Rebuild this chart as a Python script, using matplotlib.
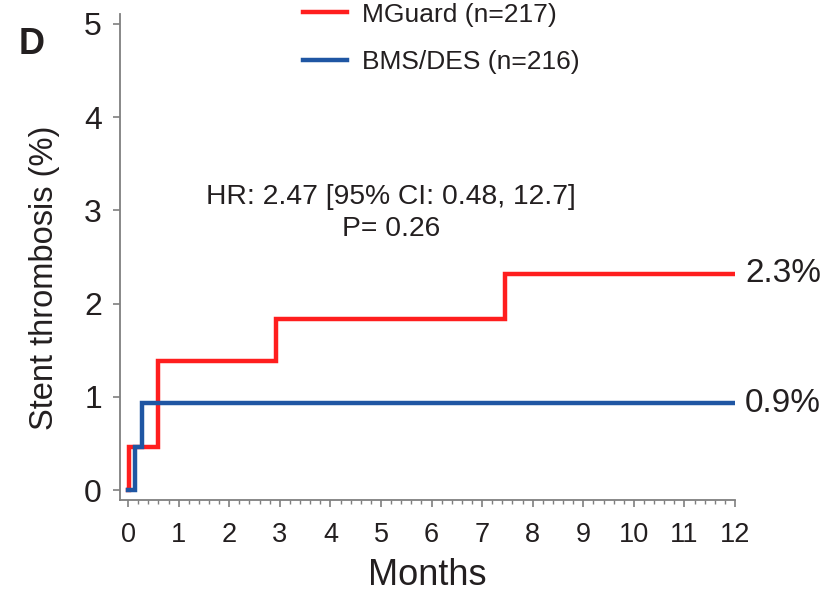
import matplotlib
matplotlib.use("Agg")
import matplotlib.pyplot as plt
from matplotlib.ticker import MultipleLocator

plt.rcParams['font.family'] = ['Liberation Sans', 'DejaVu Sans']

# Data
red_months = [0, 0.02, 0.59, 2.92, 7.45, 12]
red_rate = [0, 0.46, 1.38, 1.84, 2.32, 2.32]
blue_months = [0, 0.14, 0.28, 12]
blue_rate = [0, 0.46, 0.93, 0.93]
red_label = "MGuard (n=217)"
blue_label = "BMS/DES (n=216)"
red_end = "2.3%"
blue_end = "0.9%"
x_ticks = list(range(0, 13))
y_ticks = [0, 1, 2, 3, 4, 5]

RED = "#FF1E1E"
BLUE = "#1F56A3"
GRAY = "#7F7F7F"
TXT = "#231F20"

fig = plt.figure(figsize=(8.33, 5.96), dpi=100)
ax = fig.add_axes([120/833, (596-500)/596, (735-120)/833, (500-14)/596])

l1, = ax.step(red_months, red_rate, where='post', color=RED, lw=3.2, zorder=3,
              solid_joinstyle='miter', label=red_label)
l2, = ax.step(blue_months, blue_rate, where='post', color=BLUE, lw=3.2, zorder=4,
              solid_joinstyle='miter', label=blue_label)

ax.set_xlim(-0.16, 12)
ax.set_ylim(-0.107, 5.107)
ax.set_xticks(x_ticks)
ax.set_yticks(y_ticks)
ax.xaxis.set_minor_locator(MultipleLocator(0.2))
for s in ['top', 'right']:
    ax.spines[s].set_visible(False)
for s in ['left', 'bottom']:
    ax.spines[s].set_color(GRAY)
    ax.spines[s].set_linewidth(1.3)
ax.spines['bottom'].set_bounds(-0.16, 12)
ax.tick_params(axis='both', which='major', color=GRAY, width=1.2, length=5, colors=GRAY)
ax.tick_params(axis='x', which='minor', color=GRAY, width=1.0, length=3)
ax.tick_params(axis='x', labelsize=19.5, labelcolor=TXT, pad=11)
ax.tick_params(axis='y', labelsize=23, labelcolor=TXT, pad=8)

ax.set_xlabel("Months", fontsize=26, color=TXT, labelpad=7)
ax.set_ylabel("Stent thrombosis (%)", fontsize=23.5, color=TXT)
ax.yaxis.set_label_coords(-0.097, 0.457)

ax.text(12.2, red_rate[-1], red_end, fontsize=24, color=TXT, va='center', ha='left', clip_on=False)
ax.text(12.2, blue_rate[-1], blue_end, fontsize=24, color=TXT, va='center', ha='left', clip_on=False)

ax.text(5.2, 2.97, "HR: 2.47 [95% CI: 0.48, 12.7]\nP= 0.26", fontsize=20.3, color=TXT,
        ha='center', va='center', linespacing=1.3)

fig.text(19/833, 1-45/596, "D", fontsize=26, fontweight='bold', color=TXT, va='center', ha='left')

leg = ax.legend(handles=[l1, l2], loc='upper left', bbox_to_anchor=(292/833, 1.0 + 8/596),
                bbox_transform=fig.transFigure, frameon=False, fontsize=19,
                handlelength=1.7, handletextpad=0.55, labelspacing=0.88, borderaxespad=0)
for t in leg.get_texts():
    t.set_color(TXT)

fig.savefig("out.png", dpi=100)
